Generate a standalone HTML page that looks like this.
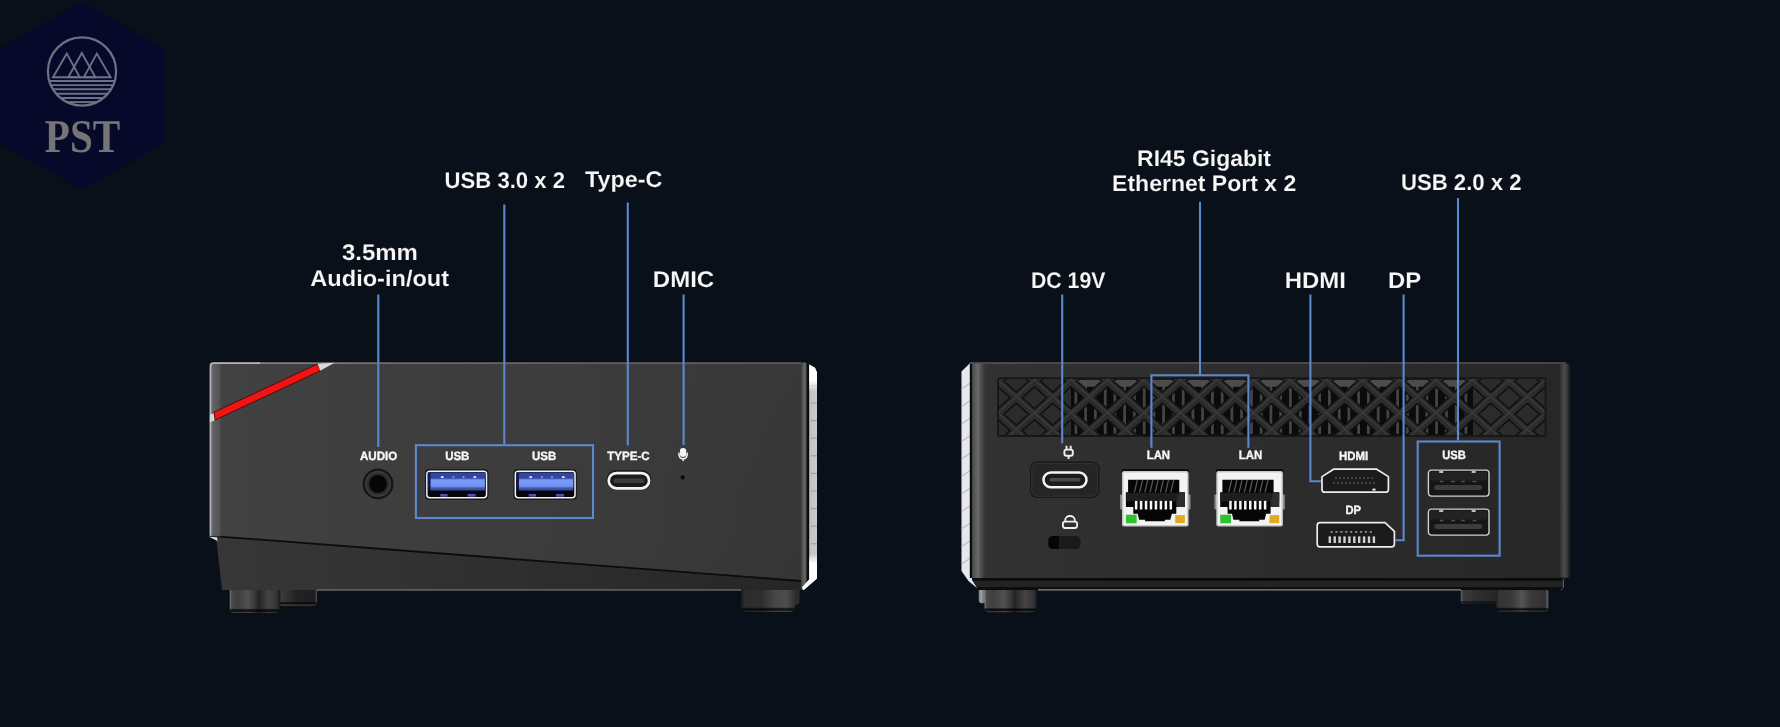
<!DOCTYPE html>
<html lang="en">
<head>
<meta charset="utf-8">
<title>Mini PC ports</title>
<style>
html,body{margin:0;padding:0;background:#0a1019;}
body{width:1780px;height:727px;overflow:hidden;font-family:"Liberation Sans",sans-serif;}
svg{display:block;}
.lbl{font-family:"Liberation Sans",sans-serif;font-weight:700;fill:#f6f7f9;font-size:22.6px;stroke:#0a1019;stroke-width:.12px;}
.pl{font-family:"Liberation Sans",sans-serif;font-weight:700;fill:#f6f6f6;font-size:12px;stroke:#f6f6f6;stroke-width:.35px;}
text{text-rendering:geometricPrecision;}
.pl,.lbl{filter:url(#gs);}
.ln{stroke:#5c88d0;stroke-width:2.1;fill:none;}
</style>
</head>
<body>
<svg width="1780" height="727" viewBox="0 0 1780 727">
<defs>
  <linearGradient id="bg" x1="0" y1="0" x2="0" y2="1">
    <stop offset="0" stop-color="#0a1019"/>
    <stop offset="1" stop-color="#0a1019"/>
  </linearGradient>
  <linearGradient id="lf" x1="0" y1="0" x2="1" y2="0">
    <stop offset="0" stop-color="#424242"/>
    <stop offset="0.3" stop-color="#3e3e3e"/>
    <stop offset="0.6" stop-color="#3c3c3c"/>
    <stop offset="1" stop-color="#393939"/>
  </linearGradient>
  <linearGradient id="lfsh" gradientUnits="userSpaceOnUse" x1="560" y1="400" x2="800" y2="590">
    <stop offset="0" stop-color="#000" stop-opacity="0"/>
    <stop offset="0.5" stop-color="#000" stop-opacity="0.02"/>
    <stop offset="1" stop-color="#000" stop-opacity="0.07"/>
  </linearGradient>
  <linearGradient id="ledge" x1="0" y1="0" x2="1" y2="0">
    <stop offset="0" stop-color="#2c2c2c"/>
    <stop offset="0.12" stop-color="#2a2a2a"/>
    <stop offset="0.38" stop-color="#454545"/>
    <stop offset="0.62" stop-color="#686868"/>
    <stop offset="0.74" stop-color="#4c4c4c"/>
    <stop offset="0.81" stop-color="#101010"/>
    <stop offset="1" stop-color="#050505"/>
  </linearGradient>
  <linearGradient id="lstrip" x1="0" y1="0" x2="1" y2="0">
    <stop offset="0" stop-color="#b9bcbf"/>
    <stop offset="0.5" stop-color="#c1c4c7"/>
    <stop offset="1" stop-color="#c8cbce"/>
  </linearGradient>
  <linearGradient id="lstripv" x1="0" y1="0" x2="0" y2="1">
    <stop offset="0" stop-color="#fff" stop-opacity="1"/>
    <stop offset="0.07" stop-color="#fff" stop-opacity="1"/>
    <stop offset="0.12" stop-color="#fff" stop-opacity="0"/>
    <stop offset="0.84" stop-color="#fff" stop-opacity="0"/>
    <stop offset="0.88" stop-color="#fff" stop-opacity="1"/>
    <stop offset="1" stop-color="#fff" stop-opacity="1"/>
  </linearGradient>
  <linearGradient id="lb" x1="0" y1="0" x2="1" y2="0">
    <stop offset="0" stop-color="#373737"/>
    <stop offset="0.45" stop-color="#303030"/>
    <stop offset="1" stop-color="#262626"/>
  </linearGradient>
  <linearGradient id="rf" x1="0" y1="0" x2="1" y2="0">
    <stop offset="0" stop-color="#323232"/>
    <stop offset="1" stop-color="#272727"/>
  </linearGradient>
  <linearGradient id="foot" x1="0" y1="0" x2="1" y2="0">
    <stop offset="0" stop-color="#858585"/>
    <stop offset="0.035" stop-color="#4a4a4a"/>
    <stop offset="0.15" stop-color="#3f3f3f"/>
    <stop offset="0.37" stop-color="#505050"/>
    <stop offset="0.5" stop-color="#3a3a3a"/>
    <stop offset="0.58" stop-color="#242424"/>
    <stop offset="0.64" stop-color="#2e2e2e"/>
    <stop offset="0.78" stop-color="#444444"/>
    <stop offset="0.93" stop-color="#353535"/>
    <stop offset="1" stop-color="#262626"/>
  </linearGradient>
  <linearGradient id="footB" x1="0" y1="0" x2="1" y2="0">
    <stop offset="0" stop-color="#1e1e1e"/>
    <stop offset="0.07" stop-color="#2c2c2c"/>
    <stop offset="0.38" stop-color="#2e2e2e"/>
    <stop offset="0.5" stop-color="#3a3a3a"/>
    <stop offset="0.64" stop-color="#484848"/>
    <stop offset="0.85" stop-color="#4c4c4c"/>
    <stop offset="1" stop-color="#303030"/>
  </linearGradient>
  <linearGradient id="foot2" x1="0" y1="0" x2="1" y2="0">
    <stop offset="0" stop-color="#3c3c3c"/>
    <stop offset="0.45" stop-color="#222222"/>
    <stop offset="0.93" stop-color="#1e1e1e"/>
    <stop offset="1" stop-color="#555555"/>
  </linearGradient>
  <linearGradient id="footv" x1="0" y1="0" x2="0" y2="1">
    <stop offset="0" stop-color="#000" stop-opacity=".25"/>
    <stop offset="0.08" stop-color="#000" stop-opacity="0"/>
    <stop offset="0.8" stop-color="#000" stop-opacity="0"/>
    <stop offset="0.87" stop-color="#000" stop-opacity=".78"/>
    <stop offset="0.93" stop-color="#000" stop-opacity=".78"/>
    <stop offset="0.95" stop-color="#000" stop-opacity=".15"/>
    <stop offset="1" stop-color="#000" stop-opacity=".15"/>
  </linearGradient>
  <linearGradient id="usbblue" x1="0" y1="0" x2="0" y2="1">
    <stop offset="0" stop-color="#5269c4"/>
    <stop offset="0.12" stop-color="#7a9af8"/>
    <stop offset="0.55" stop-color="#7496f5"/>
    <stop offset="0.7" stop-color="#6a8ae8"/>
    <stop offset="0.78" stop-color="#4359b0"/>
    <stop offset="1" stop-color="#3a4d96"/>
  </linearGradient>
  <linearGradient id="redge" x1="0" y1="0" x2="1" y2="0">
    <stop offset="0" stop-color="#050505"/>
    <stop offset="0.09" stop-color="#0a0a0a"/>
    <stop offset="0.13" stop-color="#444"/>
    <stop offset="0.3" stop-color="#5c5c5c"/>
    <stop offset="0.45" stop-color="#6a6a6a"/>
    <stop offset="0.7" stop-color="#4a4a4a" stop-opacity=".8"/>
    <stop offset="1" stop-color="#323232" stop-opacity="0"/>
  </linearGradient>
  <linearGradient id="rside" x1="0" y1="0" x2="1" y2="0">
    <stop offset="0" stop-color="#2c2c2c"/>
    <stop offset="0.5" stop-color="#4c4c4c"/>
    <stop offset="0.85" stop-color="#343434"/>
    <stop offset="1" stop-color="#1e1e1e"/>
  </linearGradient>
  <filter id="gs" x="-5%" y="-20%" width="110%" height="140%" color-interpolation-filters="sRGB"><feColorMatrix type="saturate" values="0"/></filter>
  <linearGradient id="rband" gradientUnits="userSpaceOnUse" x1="0" y1="577.5" x2="0" y2="590">
    <stop offset="0" stop-color="#090909"/>
    <stop offset="0.22" stop-color="#0c0c0c"/>
    <stop offset="0.3" stop-color="#222222"/>
    <stop offset="0.74" stop-color="#232323"/>
    <stop offset="0.8" stop-color="#0e0e0e"/>
    <stop offset="1" stop-color="#0c0c0c"/>
  </linearGradient>
  <linearGradient id="lband" x1="0" y1="0" x2="1" y2="0">
    <stop offset="0" stop-color="#6a6a6a" stop-opacity=".9"/>
    <stop offset="0.7" stop-color="#5c5c5c" stop-opacity=".7"/>
    <stop offset="1" stop-color="#444" stop-opacity="0"/>
  </linearGradient>
  <linearGradient id="ltop" gradientUnits="userSpaceOnUse" x1="255" y1="0" x2="800" y2="0">
    <stop offset="0" stop-color="#a0a0a0"/>
    <stop offset="0.3" stop-color="#7a7a7a"/>
    <stop offset="1" stop-color="#6a6a6a"/>
  </linearGradient>
  <linearGradient id="footR" x1="0" y1="0" x2="1" y2="0">
    <stop offset="0" stop-color="#1c1c1c"/>
    <stop offset="0.06" stop-color="#343434"/>
    <stop offset="0.3" stop-color="#383838"/>
    <stop offset="0.5" stop-color="#545454"/>
    <stop offset="0.66" stop-color="#3a3a3a"/>
    <stop offset="0.94" stop-color="#313131"/>
    <stop offset="1" stop-color="#6a6a6a"/>
  </linearGradient>
  <linearGradient id="footS" x1="0" y1="0" x2="1" y2="0">
    <stop offset="0" stop-color="#777"/>
    <stop offset="0.3" stop-color="#a2a2a2"/>
    <stop offset="1" stop-color="#5c5c5c"/>
  </linearGradient>
  <linearGradient id="foot3" x1="0" y1="0" x2="1" y2="0">
    <stop offset="0" stop-color="#606060"/>
    <stop offset="0.08" stop-color="#3a3a3a"/>
    <stop offset="0.5" stop-color="#2e2e2e"/>
    <stop offset="1" stop-color="#262626"/>
  </linearGradient>
</defs>
<rect width="1780" height="727" fill="url(#bg)"/>

<!-- LOGO -->
<g id="logo">
  <polygon points="82,1.500 164.600,48.600 164.600,143 82,190 -1,143 -1,48.600" fill="#07092b"/>
  <g fill="none" stroke="#6e7182" stroke-width="1.900" stroke-linejoin="miter">
  <circle cx="82" cy="71.500" r="34.100" stroke-width="2.200"/>
  <polygon points="66.800,53.600 53,77.200 79.800,77.200"/>
  <polygon points="81.800,53 68.200,77.200 95.400,77.200"/>
  <polygon points="96.800,53.600 83.800,77.200 110.600,77.200"/>
  <line x1="49.3" y1="81" x2="114.7" y2="81"/><line x1="50.7" y1="85.1" x2="113.3" y2="85.1"/><line x1="52.9" y1="89.3" x2="111.1" y2="89.3"/><line x1="56.1" y1="93.7" x2="107.9" y2="93.7"/><line x1="60.5" y1="98" x2="103.5" y2="98"/><line x1="67.0" y1="102.1" x2="97.0" y2="102.1"/>
  </g>
  <text x="82.500" y="152" text-anchor="middle" font-family="Liberation Serif, serif" font-weight="700" font-size="47" fill="#73757f" filter="url(#gs)" textLength="75.500" lengthAdjust="spacingAndGlyphs">PST</text>
</g>

<!-- LEFT DEVICE -->
<g id="left">
  <!-- feet -->
  <path d="M280.300,589 h36.800 v13.300 q0,3.500 -3.500,3.500 h-33.300 z" fill="url(#foot2)"/>
  <path d="M280.300,602 h36.800 v.3 q0,3.500 -3.500,3.500 h-33.300 z" fill="#000" opacity=".6"/>
  <path d="M280.300,604.600 h35.500 q-1,1.200 -2.200,1.200 h-33.300 z" fill="#444"/>
  <path d="M229.800,589 h49.700 v19.600 q0,4.500 -4.500,4.500 h-40.700 q-4.500,0 -4.500,-4.500 z" fill="url(#foot)"/>
  <path d="M229.800,589 h49.700 v19.600 q0,4.500 -4.500,4.500 h-40.700 q-4.500,0 -4.500,-4.500 z" fill="url(#footv)"/>
  <path d="M794,589 h5.600 v12 q0,3 -3,4 h-2.600 z" fill="#2b2b2b"/>
  <path d="M741.300,588 h53.700 v19.500 q0,4.500 -4.500,4.500 h-44.700 q-4.500,0 -4.500,-4.500 z" fill="url(#footB)"/>
  <path d="M741.300,588 h53.700 v19.500 q0,4.500 -4.500,4.500 h-44.700 q-4.500,0 -4.500,-4.500 z" fill="url(#footv)"/>
  <!-- right side strip -->
  <polygon points="796.4,362.5 806,362.5 809.6,365 809.6,580 803,590 796.4,590" fill="url(#ledge)"/>
  <polygon points="809.2,364.6 815,367.8 817,372.5 817,578.6 803.5,590.2 802,587.5 809.2,579.6" fill="url(#lstrip)"/>
  <g stroke="#8a8a8e" stroke-width="1" opacity=".75">
    <path d="M811,385.5h6M811,403h6M811,420.600h6M811,438.200h6M811,455.800h6M811,473.400h6M811,491h6M811,508.600h6M811,526.200h6M811,543.800h6M811,561.400h6"/>
  </g>
  <polygon points="809.2,364.6 815,367.8 817,372.5 817,578.6 803.5,590.2 802,587.5 809.2,579.6" fill="url(#lstripv)"/>
  <!-- lower panel -->
  <polygon points="216,536 801,581 801,590 222,590" fill="url(#lb)"/>
  <line x1="317" y1="590" x2="741" y2="590" stroke="#8a8a8a" stroke-width="1.100"/>
  <!-- front face -->
  <polygon points="209.5,364 211.5,362.5 801,362.5 801,581 209.5,535.8" fill="url(#lf)"/>
  <polygon points="209.5,364 211.5,362.5 801,362.5 801,581 209.5,535.8" fill="url(#lfsh)"/>
  <polygon points="209.5,535.8 217,536.4 217.5,541 209.5,537" fill="#dcdcdc"/>
  <line x1="209.5" y1="535.8" x2="801" y2="581" stroke="#0c0c0c" stroke-width="1.8"/>
  <line x1="255" y1="363.100" x2="801" y2="363.100" stroke="url(#ltop)" stroke-width="1.300"/>
  <rect x="211.5" y="364" width="11" height="172.500" fill="url(#lband)"/>
  <path d="M210.600,536 V366 Q210.600,363.200 213.400,363.200 H260" fill="none" stroke="#b2b6bc" stroke-width="1.800"/>
  <!-- red stripe -->
  <polygon points="214,412.200 317.500,364 320.400,370.800 215,420" fill="#f01414" stroke="#520a0a" stroke-width="1" stroke-linejoin="round"/>
  <polygon points="317.500,363.800 334.500,362.700 320.200,370.800" fill="#d8d8d8"/>
  <polygon points="209.800,415 213.600,413.200 214.600,420.300 209.800,422.500" fill="#d4d4d4"/>
  <!-- audio -->
  <text class="pl" x="378.6" y="460.3" text-anchor="middle" textLength="37.4" lengthAdjust="spacingAndGlyphs">AUDIO</text>
  <circle cx="378" cy="484" r="16.6" fill="#454545" opacity=".5"/>
  <circle cx="378" cy="483.9" r="15.5" fill="#161616"/>
  <circle cx="378" cy="483.9" r="13.1" fill="#3a3a3a"/>
  <circle cx="378" cy="483.9" r="11" fill="#2a2a2a"/>
  <circle cx="378" cy="483.9" r="8.9" fill="#060606"/>
  <!-- usb -->
  <text class="pl" x="457.3" y="460.3" text-anchor="middle" textLength="24.2" lengthAdjust="spacingAndGlyphs">USB</text>
  <text class="pl" x="544.1" y="460.3" text-anchor="middle" textLength="24.2" lengthAdjust="spacingAndGlyphs">USB</text>
  <g transform="translate(426.1,470.6)">
  <rect x="-1" y="-1.3" width="63.2" height="30.4" rx="4" fill="#151515"/>
  <rect x="0.75" y="0.75" width="59.7" height="26.3" rx="3" fill="#05060f" stroke="#f4f4f6" stroke-width="1.5"/>
  <rect x="1.8" y="1.8" width="57.6" height="7" fill="#33469e"/>
  <rect x="4" y="8" width="54.8" height="11.8" rx="1" fill="url(#usbblue)"/>
  <rect x="1.8" y="2" width="2.6" height="17" fill="#141a52"/>
  <rect x="14.2" y="23.4" width="7.2" height="2.6" fill="#4a56b8"/>
  <rect x="41.5" y="23.4" width="8" height="2.6" fill="#4a56b8"/>
  <g fill="#dfe4ff"><rect x="14.8" y="5.6" width="2.6" height="1.8"/><rect x="26.4" y="5.9" width="1.8" height="1.4" opacity=".7"/><rect x="36.5" y="5.9" width="1.8" height="1.4" opacity=".7"/><rect x="47.4" y="5.6" width="2.6" height="1.8"/></g>
</g>
  <g transform="translate(514.6,470.6)">
  <rect x="-1" y="-1.3" width="63.2" height="30.4" rx="4" fill="#151515"/>
  <rect x="0.75" y="0.75" width="59.7" height="26.3" rx="3" fill="#05060f" stroke="#f4f4f6" stroke-width="1.5"/>
  <rect x="1.8" y="1.8" width="57.6" height="7" fill="#33469e"/>
  <rect x="4" y="8" width="54.8" height="11.8" rx="1" fill="url(#usbblue)"/>
  <rect x="1.8" y="2" width="2.6" height="17" fill="#141a52"/>
  <rect x="14.2" y="23.4" width="7.2" height="2.6" fill="#4a56b8"/>
  <rect x="41.5" y="23.4" width="8" height="2.6" fill="#4a56b8"/>
  <g fill="#dfe4ff"><rect x="14.8" y="5.6" width="2.6" height="1.8"/><rect x="26.4" y="5.9" width="1.8" height="1.4" opacity=".7"/><rect x="36.5" y="5.9" width="1.8" height="1.4" opacity=".7"/><rect x="47.4" y="5.6" width="2.6" height="1.8"/></g>
</g>
  <!-- type-c -->
  <text class="pl" x="628.5" y="460.3" text-anchor="middle" textLength="42.5" lengthAdjust="spacingAndGlyphs">TYPE-C</text>
  <rect x="606.4" y="470" width="45" height="20" rx="10" fill="#1c1c1c"/>
  <rect x="608.7" y="473.1" width="40.400" height="15.200" rx="7.600" fill="#1b1b1b" stroke="#f5f5f5" stroke-width="2.700"/>
  <rect x="613.5" y="478.600" width="31" height="4.400" rx="2.200" fill="#3d3d3d"/>
  <!-- mic -->
  <g fill="none" stroke="#f4f4f4" stroke-width="1.500" stroke-linecap="round">
    <rect x="679.900" y="447.900" width="6.400" height="9" rx="3.200" fill="#f4f4f4" stroke="none"/>
    <path d="M678.900,453.200 q0,5.600 4.200,5.600 q4.200,0 4.200,-5.600"/>
    <path d="M683.100,458.800 v1.600"/>
  </g>
  <circle cx="682.9" cy="477.4" r="2.900" fill="#4a4a4a"/>
  <circle cx="682.7" cy="477.4" r="2.400" fill="#0d0d0d"/>
</g>

<!-- RIGHT DEVICE -->
<g id="right">
  <!-- feet -->
  <path d="M978.700,589 h7 v14.300 h-3.500 q-3.500,0 -3.500,-3.500 z" fill="url(#footS)"/>
  <path d="M984.600,589 h51.700 v18.700 q0,4.500 -4.500,4.500 h-42.700 q-4.500,0 -4.500,-4.500 z" fill="url(#foot)"/>
  <path d="M984.600,589 h51.700 v18.700 q0,4.500 -4.500,4.500 h-42.700 q-4.500,0 -4.500,-4.500 z" fill="url(#footv)"/>
  <path d="M1460.700,589 h36 v15 h-32.500 q-3.500,0 -3.500,-3.500 z" fill="url(#foot3)"/>
  <path d="M1460.700,601 h36 v3 h-32.500 q-2.500,0 -3.500,-3 z" fill="#000" opacity=".5"/>
  <path d="M1495.800,589 h52.500 v18.300 q0,4.500 -4.500,4.500 h-43.500 q-4.500,0 -4.500,-4.500 z" fill="url(#footR)"/>
  <path d="M1495.800,589 h52.500 v18.300 q0,4.500 -4.500,4.500 h-43.500 q-4.500,0 -4.500,-4.500 z" fill="url(#footv)"/>
  <!-- left white side -->
  <polygon points="961.5,371.500 970.600,362.400 972,362.400 972,580 977.500,588.500 968.500,581 961.500,571" fill="#e6e8ee"/>
  <g stroke="#b4b4b9" stroke-width="1.1" opacity=".85"><path d="M961.500,389l9,-6M961.500,406.500l9,-6M961.500,424l9,-6M961.500,441.500l9,-6M961.500,459l9,-6M961.500,476.500l9,-6M961.500,494l9,-6M961.500,511.500l9,-6M961.500,529l9,-6M961.500,546.500l9,-6M961.500,564l9,-6"/></g>
  <!-- bottom band -->
  <polygon points="972,577.500 1563.400,577.500 1563.400,587.500 1561,590 978,590" fill="url(#rband)"/>
  <path d="M1563.400,579 V587.500 L1561,590" fill="none" stroke="#6a6a6a" stroke-width=".9"/>
  <line x1="1038" y1="589.900" x2="1461" y2="589.900" stroke="#858b93" stroke-width="1.400"/>
  <!-- right side -->
  <polygon points="1559,362.500 1567,362.500 1570.400,366 1570.400,575 1567.500,578.600 1559,578.600" fill="#1c1c1c"/>
  <rect x="1559.600" y="364" width="9.600" height="213.600" fill="url(#rside)"/>
  <!-- face -->
  <path d="M970.4,362.5 H1560 V578 H970.4 z" fill="url(#rf)"/>
  <line x1="971" y1="363" x2="1566" y2="363" stroke="#6a6a6a" stroke-width="1.2"/>
  <rect x="969.800" y="363.600" width="18" height="214.400" fill="url(#redge)"/>
  
  <!-- grille -->
  <g>
    <clipPath id="gclip"><rect x="998.0" y="378.2" width="547.5" height="57.8" rx="2"/></clipPath>
    <g clip-path="url(#gclip)">
      <rect x="998.0" y="378.2" width="547.5" height="57.8" fill="#0b0b0b"/>
      <g fill="#444444"><rect x="1074.5" y="380.2" width="2.800" height="53.8"/><rect x="1084.2" y="380.2" width="2.800" height="53.8"/><rect x="1094.0" y="380.2" width="2.800" height="53.8"/><rect x="1103.8" y="380.2" width="2.800" height="53.8"/><rect x="1113.5" y="380.2" width="2.800" height="53.8"/><rect x="1123.2" y="380.2" width="2.800" height="53.8"/><rect x="1133.0" y="380.2" width="2.800" height="53.8"/><rect x="1142.8" y="380.2" width="2.800" height="53.8"/><rect x="1152.5" y="380.2" width="2.800" height="53.8"/><rect x="1162.2" y="380.2" width="2.800" height="53.8"/><rect x="1172.0" y="380.2" width="2.800" height="53.8"/><rect x="1181.8" y="380.2" width="2.800" height="53.8"/><rect x="1191.5" y="380.2" width="2.800" height="53.8"/><rect x="1201.2" y="380.2" width="2.800" height="53.8"/><rect x="1211.0" y="380.2" width="2.800" height="53.8"/><rect x="1220.8" y="380.2" width="2.800" height="53.8"/><rect x="1230.5" y="380.2" width="2.800" height="53.8"/><rect x="1240.2" y="380.2" width="2.800" height="53.8"/><rect x="1250.0" y="380.2" width="2.800" height="53.8"/><rect x="1259.8" y="380.2" width="2.800" height="53.8"/><rect x="1269.5" y="380.2" width="2.800" height="53.8"/><rect x="1279.2" y="380.2" width="2.800" height="53.8"/><rect x="1289.0" y="380.2" width="2.800" height="53.8"/><rect x="1298.8" y="380.2" width="2.800" height="53.8"/><rect x="1308.5" y="380.2" width="2.800" height="53.8"/><rect x="1318.2" y="380.2" width="2.800" height="53.8"/><rect x="1328.0" y="380.2" width="2.800" height="53.8"/><rect x="1337.8" y="380.2" width="2.800" height="53.8"/><rect x="1347.5" y="380.2" width="2.800" height="53.8"/><rect x="1357.2" y="380.2" width="2.800" height="53.8"/><rect x="1367.0" y="380.2" width="2.800" height="53.8"/><rect x="1376.8" y="380.2" width="2.800" height="53.8"/><rect x="1386.5" y="380.2" width="2.800" height="53.8"/><rect x="1396.2" y="380.2" width="2.800" height="53.8"/><rect x="1406.0" y="380.2" width="2.800" height="53.8"/><rect x="1415.8" y="380.2" width="2.800" height="53.8"/><rect x="1425.5" y="380.2" width="2.800" height="53.8"/><rect x="1435.2" y="380.2" width="2.800" height="53.8"/><rect x="1445.0" y="380.2" width="2.800" height="53.8"/><rect x="1454.8" y="380.2" width="2.800" height="53.8"/><rect x="1464.5" y="380.2" width="2.800" height="53.8"/><rect x="1474.2" y="380.2" width="2.800" height="53.8"/></g>
      <g fill="#4c4c4c"><polygon points="1075.0,379.7 1103.5,379.7 1097.0,386.7 1081.5,386.7"/><polygon points="1111.5,379.7 1140.0,379.7 1133.5,386.7 1118.0,386.7"/><polygon points="1148.0,379.7 1176.5,379.7 1170.0,386.7 1154.5,386.7"/><polygon points="1184.5,379.7 1213.0,379.7 1206.5,386.7 1191.0,386.7"/><polygon points="1221.0,379.7 1249.5,379.7 1243.0,386.7 1227.5,386.7"/><polygon points="1257.5,379.7 1286.0,379.7 1279.5,386.7 1264.0,386.7"/><polygon points="1294.0,379.7 1322.5,379.7 1316.0,386.7 1300.5,386.7"/><polygon points="1330.5,379.7 1359.0,379.7 1352.5,386.7 1337.0,386.7"/><polygon points="1367.0,379.7 1395.5,379.7 1389.0,386.7 1373.5,386.7"/><polygon points="1403.5,379.7 1432.0,379.7 1425.5,386.7 1410.0,386.7"/><polygon points="1440.0,379.7 1468.5,379.7 1462.0,386.7 1446.5,386.7"/></g>
      <rect x="998.0" y="378.2" width="73" height="57.8" fill="#2b2b2b"/>
      <rect x="1473" y="378.2" width="80" height="57.8" fill="#2b2b2b"/>
      <path d="M878.5,372.2 L955.8,442.0 M898.5,372.2 L821.2,442.0 M915.0,372.2 L992.3,442.0 M935.0,372.2 L857.7,442.0 M951.5,372.2 L1028.8,442.0 M971.5,372.2 L894.2,442.0 M988.0,372.2 L1065.3,442.0 M1008.0,372.2 L930.7,442.0 M1024.5,372.2 L1101.8,442.0 M1044.5,372.2 L967.2,442.0 M1061.0,372.2 L1138.3,442.0 M1081.0,372.2 L1003.7,442.0 M1097.5,372.2 L1174.8,442.0 M1117.5,372.2 L1040.2,442.0 M1134.0,372.2 L1211.3,442.0 M1154.0,372.2 L1076.7,442.0 M1170.5,372.2 L1247.8,442.0 M1190.5,372.2 L1113.2,442.0 M1207.0,372.2 L1284.3,442.0 M1227.0,372.2 L1149.7,442.0 M1243.5,372.2 L1320.8,442.0 M1263.5,372.2 L1186.2,442.0 M1280.0,372.2 L1357.3,442.0 M1300.0,372.2 L1222.7,442.0 M1316.5,372.2 L1393.8,442.0 M1336.5,372.2 L1259.2,442.0 M1353.0,372.2 L1430.3,442.0 M1373.0,372.2 L1295.7,442.0 M1389.5,372.2 L1466.8,442.0 M1409.5,372.2 L1332.2,442.0 M1426.0,372.2 L1503.3,442.0 M1446.0,372.2 L1368.7,442.0 M1462.5,372.2 L1539.8,442.0 M1482.5,372.2 L1405.2,442.0 M1499.0,372.2 L1576.3,442.0 M1519.0,372.2 L1441.7,442.0 M1535.5,372.2 L1612.8,442.0 M1555.5,372.2 L1478.2,442.0 M1572.0,372.2 L1649.3,442.0 M1592.0,372.2 L1514.7,442.0 M1608.5,372.2 L1685.8,442.0 M1628.5,372.2 L1551.2,442.0 M1645.0,372.2 L1722.3,442.0 M1665.0,372.2 L1587.7,442.0 M1681.5,372.2 L1758.8,442.0 M1701.5,372.2 L1624.2,442.0" stroke="#101010" stroke-width="9.600" fill="none"/>
      <path d="M878.5,372.2 L955.8,442.0 M898.5,372.2 L821.2,442.0 M915.0,372.2 L992.3,442.0 M935.0,372.2 L857.7,442.0 M951.5,372.2 L1028.8,442.0 M971.5,372.2 L894.2,442.0 M988.0,372.2 L1065.3,442.0 M1008.0,372.2 L930.7,442.0 M1024.5,372.2 L1101.8,442.0 M1044.5,372.2 L967.2,442.0 M1061.0,372.2 L1138.3,442.0 M1081.0,372.2 L1003.7,442.0 M1097.5,372.2 L1174.8,442.0 M1117.5,372.2 L1040.2,442.0 M1134.0,372.2 L1211.3,442.0 M1154.0,372.2 L1076.7,442.0 M1170.5,372.2 L1247.8,442.0 M1190.5,372.2 L1113.2,442.0 M1207.0,372.2 L1284.3,442.0 M1227.0,372.2 L1149.7,442.0 M1243.5,372.2 L1320.8,442.0 M1263.5,372.2 L1186.2,442.0 M1280.0,372.2 L1357.3,442.0 M1300.0,372.2 L1222.7,442.0 M1316.5,372.2 L1393.8,442.0 M1336.5,372.2 L1259.2,442.0 M1353.0,372.2 L1430.3,442.0 M1373.0,372.2 L1295.7,442.0 M1389.5,372.2 L1466.8,442.0 M1409.5,372.2 L1332.2,442.0 M1426.0,372.2 L1503.3,442.0 M1446.0,372.2 L1368.7,442.0 M1462.5,372.2 L1539.8,442.0 M1482.5,372.2 L1405.2,442.0 M1499.0,372.2 L1576.3,442.0 M1519.0,372.2 L1441.7,442.0 M1535.5,372.2 L1612.8,442.0 M1555.5,372.2 L1478.2,442.0 M1572.0,372.2 L1649.3,442.0 M1592.0,372.2 L1514.7,442.0 M1608.5,372.2 L1685.8,442.0 M1628.5,372.2 L1551.2,442.0 M1645.0,372.2 L1722.3,442.0 M1665.0,372.2 L1587.7,442.0 M1681.5,372.2 L1758.8,442.0 M1701.5,372.2 L1624.2,442.0" stroke="#2b2b2b" stroke-width="6.600" fill="none"/>
      <path d="M878.5,372.2 L955.8,442.0 M898.5,372.2 L821.2,442.0 M915.0,372.2 L992.3,442.0 M935.0,372.2 L857.7,442.0 M951.5,372.2 L1028.8,442.0 M971.5,372.2 L894.2,442.0 M988.0,372.2 L1065.3,442.0 M1008.0,372.2 L930.7,442.0 M1024.5,372.2 L1101.8,442.0 M1044.5,372.2 L967.2,442.0 M1061.0,372.2 L1138.3,442.0 M1081.0,372.2 L1003.7,442.0 M1097.5,372.2 L1174.8,442.0 M1117.5,372.2 L1040.2,442.0 M1134.0,372.2 L1211.3,442.0 M1154.0,372.2 L1076.7,442.0 M1170.5,372.2 L1247.8,442.0 M1190.5,372.2 L1113.2,442.0 M1207.0,372.2 L1284.3,442.0 M1227.0,372.2 L1149.7,442.0 M1243.5,372.2 L1320.8,442.0 M1263.5,372.2 L1186.2,442.0 M1280.0,372.2 L1357.3,442.0 M1300.0,372.2 L1222.7,442.0 M1316.5,372.2 L1393.8,442.0 M1336.5,372.2 L1259.2,442.0 M1353.0,372.2 L1430.3,442.0 M1373.0,372.2 L1295.7,442.0 M1389.5,372.2 L1466.8,442.0 M1409.5,372.2 L1332.2,442.0 M1426.0,372.2 L1503.3,442.0 M1446.0,372.2 L1368.7,442.0 M1462.5,372.2 L1539.8,442.0 M1482.5,372.2 L1405.2,442.0 M1499.0,372.2 L1576.3,442.0 M1519.0,372.2 L1441.7,442.0 M1535.5,372.2 L1612.8,442.0 M1555.5,372.2 L1478.2,442.0 M1572.0,372.2 L1649.3,442.0 M1592.0,372.2 L1514.7,442.0 M1608.5,372.2 L1685.8,442.0 M1628.5,372.2 L1551.2,442.0 M1645.0,372.2 L1722.3,442.0 M1665.0,372.2 L1587.7,442.0 M1681.5,372.2 L1758.8,442.0 M1701.5,372.2 L1624.2,442.0" stroke="#3d3d3d" stroke-width="1.200" fill="none" transform="translate(0,-1.300)"/>
    </g>
    <rect x="998.0" y="378.2" width="547.5" height="57.8" rx="2" fill="none" stroke="#171717" stroke-width="1.800"/>
  </g>
  <!-- DC -->
  <g fill="none" stroke="#f2f2f2" stroke-width="1.9" stroke-linecap="butt" stroke-linejoin="round">
    <rect x="1064.400" y="449.600" width="8.400" height="6.200" rx="2"/>
    <path d="M1066.500,445.800 v3.800 M1070.700,445.800 v3.800 M1068.600,455.800 v3.200"/>
  </g>
  <rect x="1030.6" y="462.2" width="68.2" height="35.2" rx="6.5" fill="#252525" stroke="#181818" stroke-width="1.4"/>
  <rect x="1031.8" y="463.4" width="65.8" height="32.8" rx="5.5" fill="none" stroke="#383838" stroke-width=".8"/>
  <rect x="1043.5" y="472.5" width="43" height="14.800" rx="7.400" fill="#1c1c1c" stroke="#f4f4f4" stroke-width="2.500"/>
  <rect x="1049.5" y="478" width="31" height="3.6" rx="1.8" fill="#4a4a4a"/>
  <!-- lock -->
  <g fill="none" stroke="#f0f0f0" stroke-width="1.800">
    <rect x="1062.900" y="521.600" width="14.200" height="6.400" rx="2.200"/>
    <path d="M1065.200,521.600 v-1.400 a4.800,4.200 0 0 1 9.600,0 v1.400"/>
  </g>
  <rect x="1048.4" y="536" width="32.2" height="13" rx="4.5" fill="#1a1a1a"/>
  <path d="M1052.9,536 h6 v13 h-6 a4.5,4.5 0 0 1 -4.5,-4.5 v-4 a4.5,4.5 0 0 1 4.5,-4.5z" fill="#050505"/>
  <!-- LAN -->
  <text class="pl" x="1158.4" y="459.2" text-anchor="middle" textLength="23.4" lengthAdjust="spacingAndGlyphs">LAN</text>
  <text class="pl" x="1250.5" y="459.2" text-anchor="middle" textLength="23.4" lengthAdjust="spacingAndGlyphs">LAN</text>
  <g transform="translate(1122.3,471.3)">
  <rect x="-0.6" y="-2.4" width="67.2" height="5" rx="1.5" fill="#0e0e0e"/>
  <rect x="-2.2" y="23.2" width="70.4" height="15" rx="1" fill="#8c8c8c"/>
  <rect x="0" y="0" width="66" height="55" rx="1.5" fill="#f3f3f3"/>
  <rect x="0.6" y="0.6" width="64.8" height="53.8" rx="1.2" fill="none" stroke="#c9c9c9" stroke-width="1.2"/>
  <path d="M5.8,8.4 h51.2 v12.6 h5.6 v14.6 h-8.6 v6.9 h-4.4 l-1.6,6 h-5.4 v1.4 h-19.8 v-1.4 h-6 l-1.4,-6 h-4.4 v-6.9 h-7.4 v-14.6 h2.2 z" fill="#060606"/>
  <rect x="3.600" y="21.500" width="59" height="8.500" fill="#1d1d1d"/>
  <path d="M57,21 h5.6 v14.6 h-8.6 v-6 z" fill="#2d2d2d"/>
  <g stroke="#5c5c5c" stroke-width="1.2"><line x1="15.0" y1="8.8" x2="12.1" y2="21"/><line x1="20.2" y1="8.8" x2="17.3" y2="21"/><line x1="25.4" y1="8.8" x2="22.5" y2="21"/><line x1="30.6" y1="8.8" x2="27.7" y2="21"/><line x1="35.8" y1="8.8" x2="32.9" y2="21"/><line x1="41.0" y1="8.8" x2="38.1" y2="21"/><line x1="46.2" y1="8.8" x2="43.3" y2="21"/><line x1="51.4" y1="8.8" x2="48.5" y2="21"/></g>
  <g fill="#f6f6f6"><rect x="12.60" y="29.6" width="2.5" height="8.6"/><rect x="17.55" y="29.6" width="2.5" height="8.6"/><rect x="22.50" y="29.6" width="2.5" height="8.6"/><rect x="27.45" y="29.6" width="2.5" height="8.6"/><rect x="32.40" y="29.6" width="2.5" height="8.6"/><rect x="37.35" y="29.6" width="2.5" height="8.6"/><rect x="42.30" y="29.6" width="2.5" height="8.6"/><rect x="47.25" y="29.6" width="2.5" height="8.6"/></g>
  <rect x="3.6" y="43.4" width="10.8" height="8.6" fill="#2fc12f"/>
  <rect x="52.9" y="43.8" width="9.7" height="8" fill="#e0aa24"/>
</g>
  <g transform="translate(1216.6,471.3)">
  <rect x="-0.6" y="-2.4" width="67.2" height="5" rx="1.5" fill="#0e0e0e"/>
  <rect x="-2.2" y="23.2" width="70.4" height="15" rx="1" fill="#8c8c8c"/>
  <rect x="0" y="0" width="66" height="55" rx="1.5" fill="#f3f3f3"/>
  <rect x="0.6" y="0.6" width="64.8" height="53.8" rx="1.2" fill="none" stroke="#c9c9c9" stroke-width="1.2"/>
  <path d="M5.8,8.4 h51.2 v12.6 h5.6 v14.6 h-8.6 v6.9 h-4.4 l-1.6,6 h-5.4 v1.4 h-19.8 v-1.4 h-6 l-1.4,-6 h-4.4 v-6.9 h-7.4 v-14.6 h2.2 z" fill="#060606"/>
  <rect x="3.600" y="21.500" width="59" height="8.500" fill="#1d1d1d"/>
  <path d="M57,21 h5.6 v14.6 h-8.6 v-6 z" fill="#2d2d2d"/>
  <g stroke="#5c5c5c" stroke-width="1.2"><line x1="15.0" y1="8.8" x2="12.1" y2="21"/><line x1="20.2" y1="8.8" x2="17.3" y2="21"/><line x1="25.4" y1="8.8" x2="22.5" y2="21"/><line x1="30.6" y1="8.8" x2="27.7" y2="21"/><line x1="35.8" y1="8.8" x2="32.9" y2="21"/><line x1="41.0" y1="8.8" x2="38.1" y2="21"/><line x1="46.2" y1="8.8" x2="43.3" y2="21"/><line x1="51.4" y1="8.8" x2="48.5" y2="21"/></g>
  <g fill="#f6f6f6"><rect x="12.60" y="29.6" width="2.5" height="8.6"/><rect x="17.55" y="29.6" width="2.5" height="8.6"/><rect x="22.50" y="29.6" width="2.5" height="8.6"/><rect x="27.45" y="29.6" width="2.5" height="8.6"/><rect x="32.40" y="29.6" width="2.5" height="8.6"/><rect x="37.35" y="29.6" width="2.5" height="8.6"/><rect x="42.30" y="29.6" width="2.5" height="8.6"/><rect x="47.25" y="29.6" width="2.5" height="8.6"/></g>
  <rect x="3.6" y="43.4" width="10.8" height="8.6" fill="#2fc12f"/>
  <rect x="52.9" y="43.8" width="9.7" height="8" fill="#e0aa24"/>
</g>
  <!-- HDMI -->
  <text class="pl" x="1353.6" y="459.6" text-anchor="middle" textLength="29.2" lengthAdjust="spacingAndGlyphs">HDMI</text>
  <path d="M1333.6,469.2 H1376.6 L1388.4,476.6 V489.4 Q1388.4,492.2 1385.4,492.2 H1325 Q1322,492.2 1322,489.4 V476.6 Z" fill="#1b1b1b" stroke="#ededed" stroke-width="1.7" stroke-linejoin="round"/>
  <g stroke="#5a5a5a" stroke-width="1.3" stroke-dasharray="2 2"><path d="M1335,478.2 H1374 M1333,482.8 H1376"/></g>
  <rect x="1372.5" y="488.6" width="3" height="2" fill="#ededed"/>
  <!-- DP -->
  <text class="pl" x="1353.3" y="513.600" text-anchor="middle" textLength="15.6" lengthAdjust="spacingAndGlyphs">DP</text>
  <path d="M1320,522.6 H1385 L1394.4,531.4 V544 Q1394.4,546.8 1391.6,546.8 H1320 Q1317.2,546.8 1317.2,544 V525.4 Q1317.2,522.6 1320,522.6 Z" fill="#1b1b1b" stroke="#ededed" stroke-width="1.7" stroke-linejoin="round"/>
  <g fill="#d2d2d2"><rect x="1328.6" y="536.4" width="2.4" height="6.6"/><rect x="1333.5" y="536.4" width="2.4" height="6.6"/><rect x="1338.4" y="536.4" width="2.4" height="6.6"/><rect x="1343.3" y="536.4" width="2.4" height="6.6"/><rect x="1348.2" y="536.4" width="2.4" height="6.6"/><rect x="1353.1" y="536.4" width="2.4" height="6.6"/><rect x="1358.0" y="536.4" width="2.4" height="6.6"/><rect x="1362.9" y="536.4" width="2.4" height="6.6"/><rect x="1367.8" y="536.4" width="2.4" height="6.6"/><rect x="1372.7" y="536.4" width="2.4" height="6.6"/></g>
  <g fill="#8a8a8a"><rect x="1330.5" y="531" width="2.2" height="1.8"/><rect x="1335.4" y="531" width="2.2" height="1.8"/><rect x="1340.3" y="531" width="2.2" height="1.8"/><rect x="1345.2" y="531" width="2.2" height="1.8"/><rect x="1350.1" y="531" width="2.2" height="1.8"/><rect x="1355.0" y="531" width="2.2" height="1.8"/><rect x="1359.9" y="531" width="2.2" height="1.8"/><rect x="1364.8" y="531" width="2.2" height="1.8"/><rect x="1369.7" y="531" width="2.2" height="1.8"/></g>
  <!-- USB2 -->
  <text class="pl" x="1454" y="459.2" text-anchor="middle" textLength="23.6" lengthAdjust="spacingAndGlyphs">USB</text>
  <g transform="translate(1427.7,469.4)">
  <rect x="0.7" y="0.7" width="60.6" height="26" rx="3" fill="#161616" stroke="#cfcfcf" stroke-width="1.4"/>
  <rect x="2.4" y="2.2" width="57" height="9" fill="#222"/>
  <rect x="6.5" y="15.6" width="48" height="5" rx="2.5" fill="#3c3c3c"/>
  <g fill="#555"><rect x="12" y="11.4" width="3.6" height="1.4"/><rect x="23.5" y="11.4" width="3.6" height="1.4"/><rect x="33.5" y="11.4" width="3.6" height="1.4"/><rect x="45" y="11.4" width="3.6" height="1.4"/></g>
  <g fill="#bdbdbd"><rect x="11.5" y="1.4" width="4" height="2.2"/><rect x="44" y="1.4" width="4" height="2.2"/></g>
</g>
  <g transform="translate(1427.7,508.4)">
  <rect x="0.7" y="0.7" width="60.6" height="26" rx="3" fill="#161616" stroke="#cfcfcf" stroke-width="1.4"/>
  <rect x="2.4" y="2.2" width="57" height="9" fill="#222"/>
  <rect x="6.5" y="15.6" width="48" height="5" rx="2.5" fill="#3c3c3c"/>
  <g fill="#555"><rect x="12" y="11.4" width="3.6" height="1.4"/><rect x="23.5" y="11.4" width="3.6" height="1.4"/><rect x="33.5" y="11.4" width="3.6" height="1.4"/><rect x="45" y="11.4" width="3.6" height="1.4"/></g>
  <g fill="#bdbdbd"><rect x="11.5" y="1.4" width="4" height="2.2"/><rect x="44" y="1.4" width="4" height="2.2"/></g>
</g>
</g>

<!-- CALLOUTS -->
<g id="callouts">
  <g class="ln">
    <path d="M378.3,294.5 V447"/>
    <path d="M504.3,204.5 V444"/>
    <rect x="415.9" y="445.2" width="177.1" height="72.8"/>
    <path d="M627.8,202.5 V445.5"/>
    <path d="M683.6,294.5 V445"/>
    <path d="M1062.2,294.5 V443.4"/>
    <path d="M1200,202 V375"/>
    <path d="M1151.4,447.8 V375.2 H1248.4 V447.8"/>
    <path d="M1310.4,294.5 V481.2 H1321"/>
    <path d="M1403.6,294.5 V540.2 H1395.4"/>
    <path d="M1458,198 V440.5"/>
    <rect x="1417.7" y="441.5" width="81.9" height="114.2"/>
  </g>
  <text class="lbl" x="444.6" y="188.4" textLength="120.4" lengthAdjust="spacingAndGlyphs">USB 3.0 x 2</text>
  <text class="lbl" x="585" y="187.3" textLength="77.3" lengthAdjust="spacingAndGlyphs">Type-C</text>
  <text class="lbl" x="341.9" y="260.4" textLength="76.0" lengthAdjust="spacingAndGlyphs">3.5mm</text>
  <text class="lbl" x="310.3" y="286.3" textLength="138.8" lengthAdjust="spacingAndGlyphs">Audio-in/out</text>
  <text class="lbl" x="652.8" y="287.4" textLength="61.4" lengthAdjust="spacingAndGlyphs">DMIC</text>
  <text class="lbl" x="1137.1" y="166" textLength="133.9" lengthAdjust="spacingAndGlyphs">RI45 Gigabit</text>
  <text class="lbl" x="1112.1" y="191.3" textLength="184.2" lengthAdjust="spacingAndGlyphs">Ethernet Port x 2</text>
  <text class="lbl" x="1400.9" y="190.2" textLength="120.8" lengthAdjust="spacingAndGlyphs">USB 2.0 x 2</text>
  <text class="lbl" x="1031" y="287.7" textLength="74.4" lengthAdjust="spacingAndGlyphs">DC 19V</text>
  <text class="lbl" x="1284.7" y="287.7" textLength="61.2" lengthAdjust="spacingAndGlyphs">HDMI</text>
  <text class="lbl" x="1388" y="287.7" textLength="33.2" lengthAdjust="spacingAndGlyphs">DP</text>
</g>
</svg>
</body>
</html>
